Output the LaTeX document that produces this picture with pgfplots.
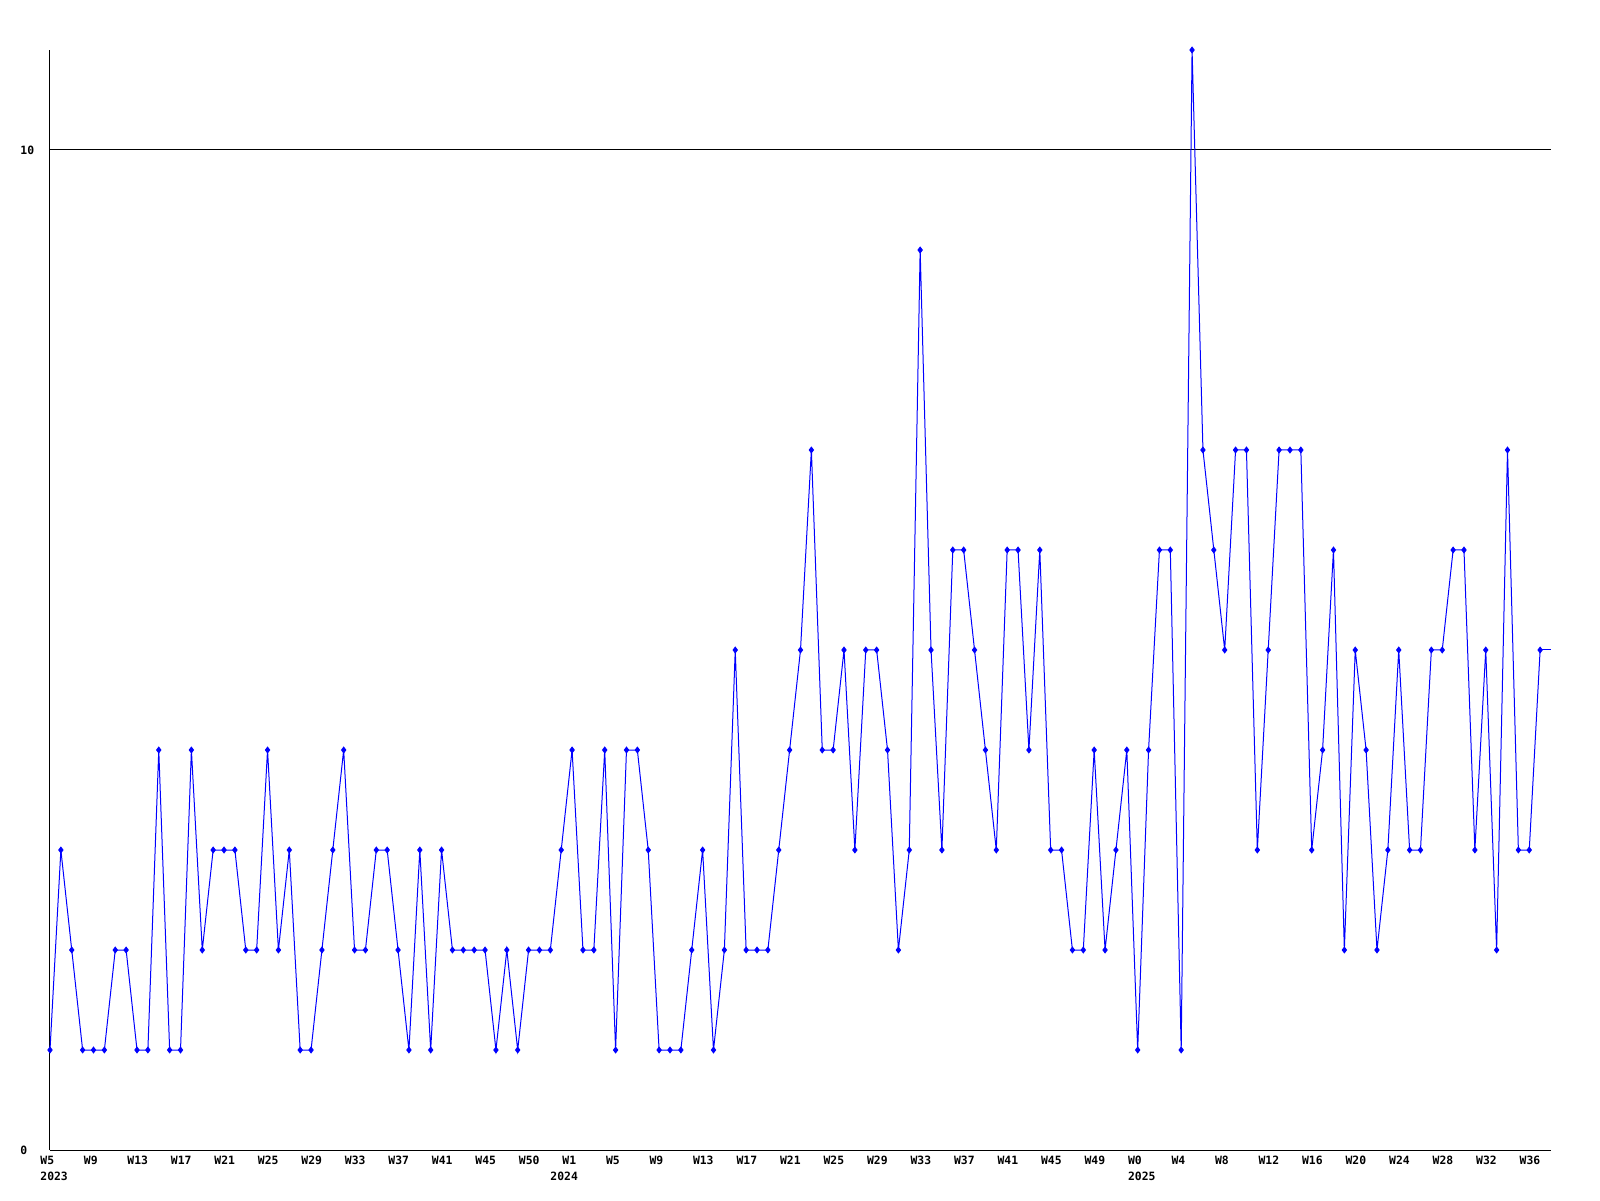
\documentclass[border=0pt]{standalone}
\usepackage{pgfplots}
\pgfplotsset{compat=1.18}
\usepackage{fontspec}
\setmonofont{DejaVu Sans Mono}
\begin{document}
\begin{tikzpicture}
\begin{axis}[
  name=ax,
  scale only axis,
  width=750.5pt, height=550pt,
  xmin=0, xmax=138, ymin=0, ymax=11,
  axis lines=left,
  axis line style={-, black, line width=0.5pt},
  major tick length=0pt,
  xtick={0,4,...,136},
  xticklabels={{W5\\2023},W9,W13,W17,W21,W25,W29,W33,W37,W41,W45,W50,{W1\\\hspace*{-6pt}2024},W5,W9,W13,W17,W21,W25,W29,W33,W37,W41,W45,W49,{W0\\2025},W4,W8,W12,W16,W20,W24,W28,W32,W36},
  ytick={0,10},
  yticklabels={0,10},
  ymajorgrids,
  grid style={black, line width=0.5pt},
  tick label style={font=\ttfamily\bfseries\fontsize{5.7}{8}\selectfont, inner sep=0pt},
  xticklabel style={anchor=north west, xshift=-5pt, yshift=-3pt, align=left},
  yticklabel style={anchor=west, xshift=-15pt},
  clip=false,
]
\addplot[blue, line width=0.5pt, mark=diamond*, mark size=1.4pt, mark options={blue}] table[x=i, y=v] {
i v
0 1
1 3
2 2
3 1
4 1
5 1
6 2
7 2
8 1
9 1
10 4
11 1
12 1
13 4
14 2
15 3
16 3
17 3
18 2
19 2
20 4
21 2
22 3
23 1
24 1
25 2
26 3
27 4
28 2
29 2
30 3
31 3
32 2
33 1
34 3
35 1
36 3
37 2
38 2
39 2
40 2
41 1
42 2
43 1
44 2
45 2
46 2
47 3
48 4
49 2
50 2
51 4
52 1
53 4
54 4
55 3
56 1
57 1
58 1
59 2
60 3
61 1
62 2
63 5
64 2
65 2
66 2
67 3
68 4
69 5
70 7
71 4
72 4
73 5
74 3
75 5
76 5
77 4
78 2
79 3
80 9
81 5
82 3
83 6
84 6
85 5
86 4
87 3
88 6
89 6
90 4
91 6
92 3
93 3
94 2
95 2
96 4
97 2
98 3
99 4
100 1
101 4
102 6
103 6
104 1
105 11
106 7
107 6
108 5
109 7
110 7
111 3
112 5
113 7
114 7
115 7
116 3
117 4
118 6
119 2
120 5
121 4
122 2
123 3
124 5
125 3
126 3
127 5
128 5
129 6
130 6
131 3
132 5
133 2
134 7
135 3
136 3
137 5
};
\addplot[blue, line width=0.5pt, no marks] table[x=i, y=v] {
i v
137 5
138 5
};
\end{axis}
\path ([shift={(-25pt,-25pt)}]ax.south west) rectangle ([shift={(24.5pt,25pt)}]ax.north east);
\end{tikzpicture}
\end{document}
